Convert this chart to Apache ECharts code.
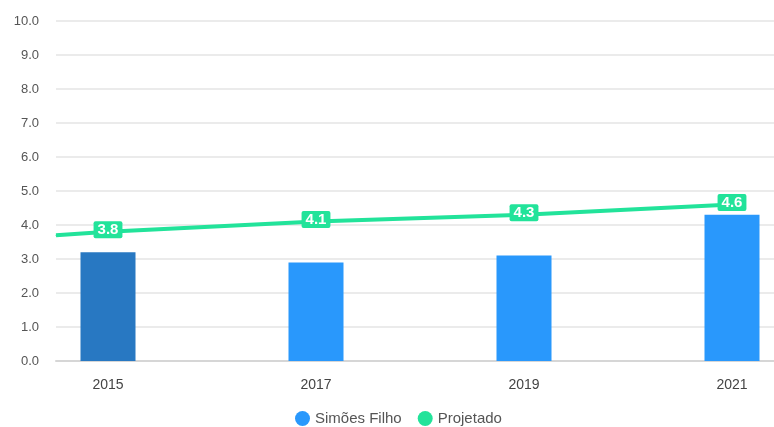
<!DOCTYPE html>
<html>
<head>
<meta charset="utf-8">
<script src="https://cdn.jsdelivr.net/npm/echarts@6/dist/echarts.min.js"></script>
<style>
  html, body { margin: 0; padding: 0; background: #fff; }
  #chart { width: 774px; height: 427px; }
</style>
</head>
<body>
<div id="chart"></div>
<script>
// categorias (anos) do eixo x
const years = ['2015', '2016', '2017', '2018', '2019', '2020', '2021']
// Simões Filho, só anos ímpares
const simoesFilho = [3.2, '-', 2.9, '-', 3.1, '-', 4.3]
// projetado
const projYears = [2015, 2017, 2019, 2021]
const projetado = [3.8, 4.1, 4.3, 4.6]
// a linha começa na borda esquerda do gráfico
const projStart = [2014.5, 3.7]

const yTicks = { min: 0, max: 10, interval: 1 }

const chart = echarts.init(document.getElementById('chart'))

const barData = simoesFilho.map((v, i) => {
  if (i === 0) return { value: v, itemStyle: { color: '#2878c2' } }
  return v
})

const lineData = [{ value: projStart, label: { show: false } }].concat(
  projYears.map((y, i) => ({ value: [y, projetado[i]] }))
)

const option = {
  animation: false,
  grid: { left: 56, top: 21, width: 728, bottom: 66, outerBoundsMode: 'none' },
  legend: {
    bottom: 1,
    padding: 0,
    left: 295,
    icon: 'circle',
    itemWidth: 15,
    itemHeight: 15,
    itemGap: 16,
    textStyle: { color: '#555', fontSize: 15, fontFamily: 'Liberation Sans' },
    data: ['Simões Filho', 'Projetado'],
  },
  xAxis: [
    {
      type: 'category',
      data: years,
      axisLine: { lineStyle: { color: '#d6d6d6', width: 2 } },
      axisTick: { alignWithLabel: true, interval: 1, length: 6, lineStyle: { color: '#d6d6d6' } },
      axisLabel: { interval: 1, margin: 17, color: '#444', fontSize: 14, fontFamily: 'Liberation Sans' },
    },
    {
      type: 'value',
      min: 2014.5,
      max: 2021.5,
      show: false,
    },
  ],
  yAxis: {
    type: 'value',
    min: yTicks.min,
    max: yTicks.max,
    interval: yTicks.interval,
    axisLine: { show: false },
    axisTick: { show: false },
    axisLabel: {
      margin: 17,
      color: '#555',
      fontSize: 13,
      fontFamily: 'Liberation Sans',
      formatter: (v) => v.toFixed(1),
    },
    splitLine: { lineStyle: { color: '#ebebeb', width: 2 } },
  },
  series: [
    {
      name: 'Simões Filho',
      type: 'bar',
      xAxisIndex: 0,
      data: barData,
      barWidth: 55,
      itemStyle: { color: '#2998fc' },
    },
    {
      name: 'Projetado',
      type: 'line',
      xAxisIndex: 1,
      data: lineData,
      symbol: 'circle',
      symbolSize: 1,
      lineStyle: { color: '#22e39a', width: 4 },
      itemStyle: { color: '#22e39a' },
      label: {
        show: true,
        position: 'inside',
        offset: [0, -2],
        color: '#fff',
        fontWeight: 'bold',
        fontSize: 15,
        fontFamily: 'Liberation Sans',
        backgroundColor: '#22e39a',
        padding: [1, 4],
        borderRadius: 2,
        formatter: (p) => p.value[1].toFixed(1),
      },
    },
  ],
}

chart.setOption(option)
</script>
</body>
</html>
